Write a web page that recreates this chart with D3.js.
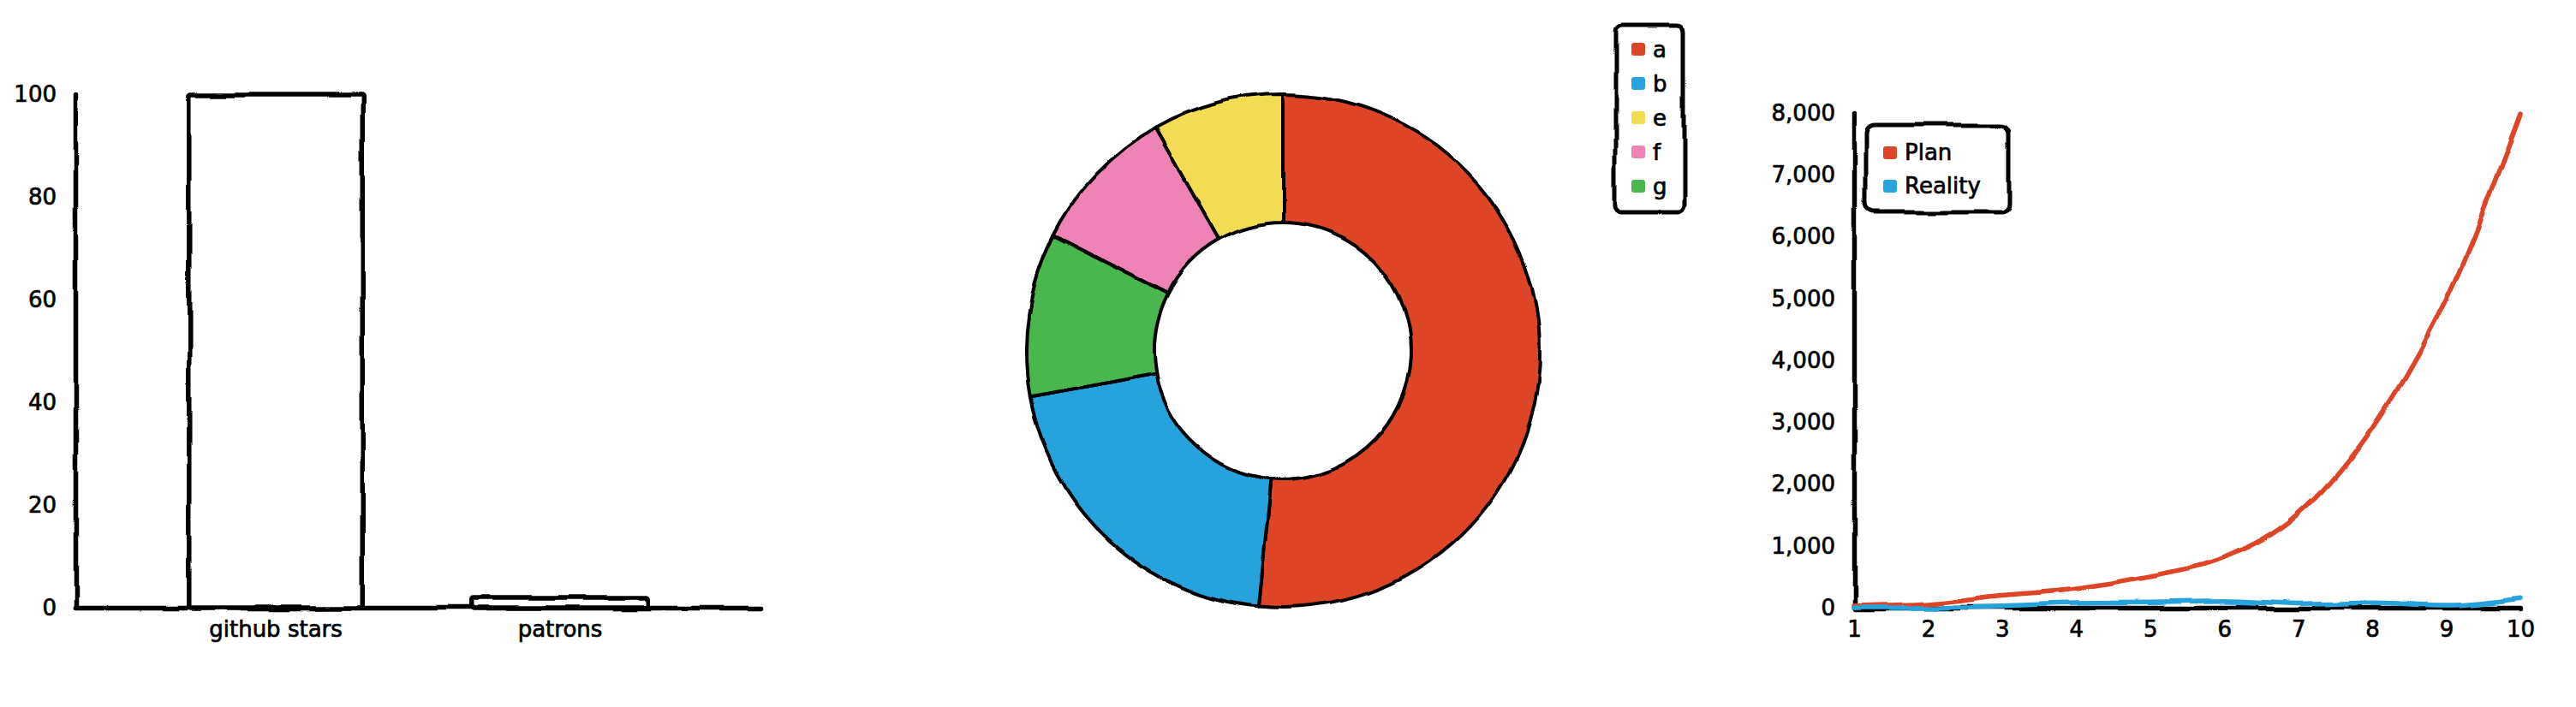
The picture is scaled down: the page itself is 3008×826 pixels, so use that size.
<!DOCTYPE html>
<html>
<head>
<meta charset="utf-8">
<script src="https://cdn.jsdelivr.net/npm/d3@7"></script>
<style>
  html, body { margin: 0; padding: 0; background: #fff; }
  svg { display: block; }
  text { font-family: 'DejaVu Sans', sans-serif; fill: #000; stroke: #000; stroke-width: 0.7px; }
</style>
</head>
<body>
<script>
// ---------- data ----------
const colors = ['#dd4528', '#28a3dd', '#f3db52', '#ed84b5', '#4ab74e'];

const barLabels = ['github stars', 'patrons'];
const barValues = [100, 2];
const barTicks = [0, 20, 40, 60, 80, 100];

const pieLabels = ['a', 'b', 'e', 'f', 'g'];
const pieValues = [500, 200, 80, 90, 100];

const lineLabels = ['1', '2', '3', '4', '5', '6', '7', '8', '9', '10'];
const lineSeriesNames = ['Plan', 'Reality'];
const planValues = [30, 70, 200, 300, 500, 800, 1500, 2900, 5000, 8000];
const realityValues = [0, 1, 30, 70, 80, 100, 50, 80, 40, 150];
const lineTicks = [0, 1000, 2000, 3000, 4000, 5000, 6000, 7000, 8000];

// ---------- svg ----------
const W = 3008, H = 826, FS = 26;
const svg = d3.select('body').append('svg').attr('width', W).attr('height', H);

const defs = svg.append('defs');
const filt = defs.append('filter').attr('id', 'xkcdify')
  .attr('filterUnits', 'userSpaceOnUse')
  .attr('x', -W).attr('y', -H).attr('width', 3 * W).attr('height', 3 * H);
filt.append('feTurbulence').attr('type', 'fractalNoise')
  .attr('baseFrequency', 0.014).attr('numOctaves', 2).attr('result', 'noise');
filt.append('feDisplacementMap').attr('scale', 9)
  .attr('xChannelSelector', 'R').attr('yChannelSelector', 'G')
  .attr('in', 'SourceGraphic').attr('in2', 'noise');

function styleAxis(g) {
  g.select('.domain').attr('stroke', '#000').attr('stroke-width', 5.5)
    .attr('stroke-linecap', 'round').attr('filter', 'url(#xkcdify)');
  g.selectAll('.tick line').remove();
  g.selectAll('.tick text').attr('font-size', FS)
    .attr('font-family', "'DejaVu Sans', sans-serif").attr('fill', '#000');
}

// ---------- bar chart ----------
{
  const x = d3.scaleBand().domain(barLabels).range([88, 888]).paddingInner(0.39).paddingOuter(0.4);
  const y = d3.scaleLinear().domain([0, 100]).range([710, 110]);
  const g = svg.append('g');
  g.append('g').attr('transform', 'translate(0,710)')
    .call(d3.axisBottom(x).tickSize(0).tickSizeOuter(0).tickPadding(16))
    .call(styleAxis);
  g.append('g').attr('transform', 'translate(88,0)')
    .call(d3.axisLeft(y).tickValues(barTicks).tickSize(0).tickSizeOuter(0).tickPadding(22))
    .call(styleAxis);
  g.append('g').attr('filter', 'url(#xkcdify)').selectAll('rect')
    .data(barValues).join('rect')
    .attr('x', (d, i) => x(barLabels[i]))
    .attr('width', x.bandwidth())
    .attr('y', d => y(d))
    .attr('height', d => y(0) - y(d))
    .attr('fill', '#fff').attr('stroke', '#000').attr('stroke-width', 5.5)
    .attr('rx', 2);
}

// ---------- pie chart ----------
{
  const cx = 1498, cy = 410, R = 300;
  const pie = d3.pie()(pieValues);   // default: sorted by value, descending
  const arc = d3.arc().innerRadius(R * 0.5).outerRadius(R);
  const g = svg.append('g').attr('transform', `translate(${cx},${cy})`).attr('filter', 'url(#xkcdify)');
  g.selectAll('path').data(pie).join('path')
    .attr('d', arc)
    .attr('fill', (d, i) => colors[i])
    .attr('stroke', '#000').attr('stroke-width', 4).attr('stroke-linejoin', 'round');

  const lg = svg.append('g');
  lg.append('rect').attr('x', 1886).attr('y', 28).attr('width', 80).attr('height', 220)
    .attr('rx', 8).attr('fill', '#fff').attr('stroke', '#000').attr('stroke-width', 5)
    .attr('filter', 'url(#xkcdify)');
  const items = lg.selectAll('g.item').data(pieLabels).join('g').attr('class', 'item')
    .attr('transform', (d, i) => `translate(1905,${58 + i * 40})`);
  items.append('rect').attr('x', 0).attr('y', -8).attr('width', 16).attr('height', 15)
    .attr('rx', 3).attr('fill', (d, i) => colors[i]);
  items.append('text').attr('x', 25).attr('y', 0).attr('dy', '0.35em')
    .attr('font-size', FS).text(d => d);
}

// ---------- line chart ----------
{
  const x = d3.scalePoint().domain(lineLabels).range([2165, 2943]);
  const y = d3.scaleLinear().domain([0, 8000]).range([710, 132]);
  const g = svg.append('g');
  g.append('g').attr('transform', 'translate(0,710)')
    .call(d3.axisBottom(x).tickSize(0).tickSizeOuter(0).tickPadding(16))
    .call(styleAxis);
  g.append('g').attr('transform', 'translate(2165,0)')
    .call(d3.axisLeft(y).tickValues(lineTicks).tickFormat(d3.format(',')).tickSize(0).tickSizeOuter(0).tickPadding(22))
    .call(styleAxis);

  const line = d3.line().x((d, i) => x(lineLabels[i])).y(d => y(d)).curve(d3.curveMonotoneX);
  const series = [planValues, realityValues];
  g.append('g').attr('filter', 'url(#xkcdify)').selectAll('path.ln')
    .data(series).join('path').attr('class', 'ln')
    .attr('d', d => line(d))
    .attr('fill', 'none').attr('stroke', (d, i) => colors[i])
    .attr('stroke-width', 5.5).attr('stroke-linecap', 'round');

  const lg = svg.append('g');
  lg.append('rect').attr('x', 2179).attr('y', 146).attr('width', 167).attr('height', 102)
    .attr('rx', 10).attr('fill', '#fff').attr('stroke', '#000').attr('stroke-width', 5)
    .attr('filter', 'url(#xkcdify)');
  const items = lg.selectAll('g.item').data(lineSeriesNames).join('g').attr('class', 'item')
    .attr('transform', (d, i) => `translate(2199,${178 + i * 39})`);
  items.append('rect').attr('x', 0).attr('y', -7).attr('width', 16).attr('height', 15)
    .attr('rx', 3).attr('fill', (d, i) => colors[i]);
  items.append('text').attr('x', 25).attr('y', 0).attr('dy', '0.35em')
    .attr('font-size', FS).text(d => d);
}
</script>
</body>
</html>
